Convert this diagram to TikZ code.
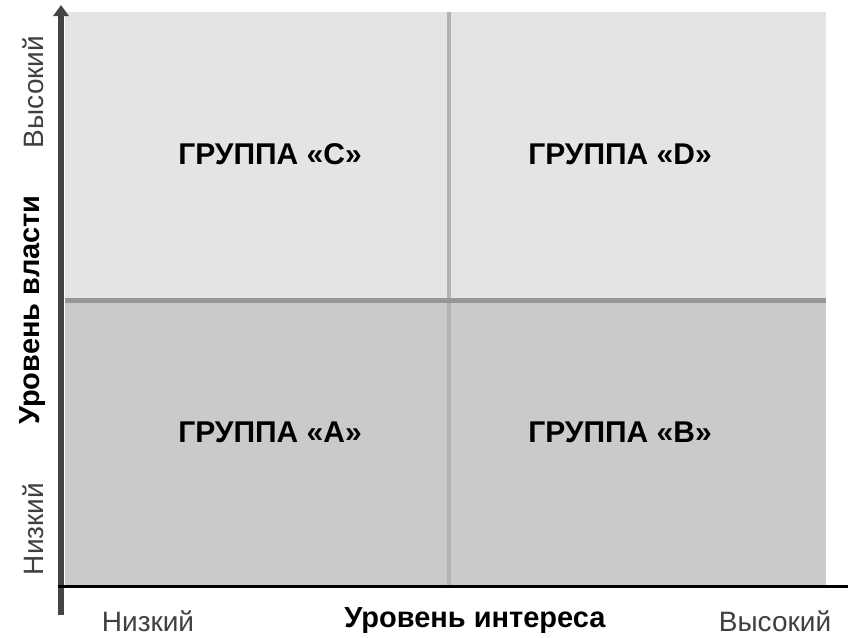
\documentclass[tikz,border=0pt]{standalone}
\usepackage{fontspec}
\setmainfont{Liberation Sans}
\usetikzlibrary{arrows.meta}
\definecolor{hightop}{HTML}{E4E4E4}
\definecolor{lowbottom}{HTML}{CACACA}
\definecolor{divgrey}{HTML}{B2B2B2}
\definecolor{axisgrey}{HTML}{444444}

\begin{document}
\begin{tikzpicture}[x=1pt, y=-1pt,
    group/.style={font=\bfseries\fontsize{30}{34}\selectfont},
    title/.style={font=\bfseries\fontsize{29}{33}\selectfont},
    level/.style={font=\fontsize{28}{32}\selectfont, text=black!75}]
        \useasboundingbox (0,0) rectangle (848,637);
        % quadrants
        \fill[hightop] (65,12) rectangle (826,300);
        \fill[lowbottom] (65,300) rectangle (826,585);
        \coordinate (midT) at (449,12);
        \coordinate (midB) at (449,585);
        \coordinate (midL) at (65,300);
        \coordinate (midR) at (826,300);
        \draw[divgrey, line width=4pt] (midT) -- (midB);
        \draw[divgrey!85!black, line width=5pt] (midL) -- (midR);
        % axes
        \coordinate (yBot) at (61,615);
        \coordinate (yTop) at (61,5);
        \coordinate (xLeft) at (58,586);
        \coordinate (xRight) at (848,586);
        \draw[axisgrey, line width=6pt, -{Triangle[length=11pt, width=15pt]}] (yBot) -- (yTop);
        \draw[black, line width=3pt] (xLeft) -- (xRight);
        % groups
        \node[group] (grpC) at (270,154) {ГРУППА «С»};
        \node[group] (grpD) at (620,154) {ГРУППА «D»};
        \node[group] (grpA) at (270,432) {ГРУППА «А»};
        \node[group] (grpB) at (620,432) {ГРУППА «В»};
        % axis labels
        \node[title, rotate=90] (power) at (33,310) {Уровень власти};
        \node[level, rotate=90] (powHigh) at (33,92) {Высокий};
        \node[level, rotate=90] (powLow) at (33,529) {Низкий};
        \node[title] (interest) at (475,621) {Уровень интереса};
        \node[level] (intLow) at (148,621) {Низкий};
        \node[level] (intHigh) at (775,621) {Высокий};
    \end{tikzpicture}
\end{document}
